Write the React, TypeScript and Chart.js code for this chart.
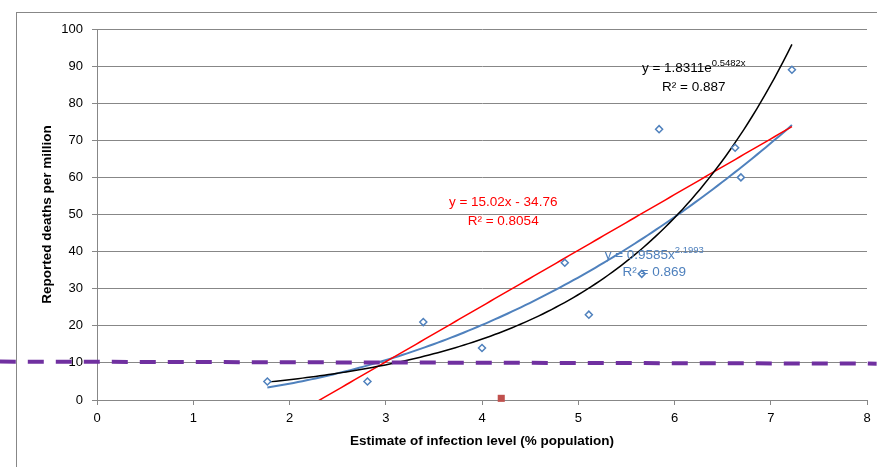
import React, { useEffect, useRef } from 'react';
import { Chart, registerables } from 'chart.js';

Chart.register(...registerables);

// ---- data ----
const infectionLevel = [1.77, 2.81, 3.39, 4.0, 4.86, 5.11, 5.66, 5.84, 6.63, 6.69, 7.22];
const deathsPerMillion = [5, 5, 21, 14, 37, 23, 34, 73, 68, 60, 89];

const outlierX = [4.2];
const outlierY = [0.45];

const thresholdX = [-1.01, 8.1];
const thresholdY = [10.35, 9.8];

// trendline equations as printed on the chart
const expCoef = [1.8311, 0.5482]; // y = a e^(b x)
const linCoef = [15.02, -34.76]; // y = m x + c
const powCoef = [0.9585, 2.1993]; // y = a x^b
const trendRange = [1.77, 7.22];

const xAxisTitle = 'Estimate of infection level (% population)';
const yAxisTitle = 'Reported deaths per million';

const FONT = "'Liberation Sans', Arial, sans-serif";
const GRID = '#878787';

function sampleTrend(fn: (x: number) => number) {
  const pts: { x: number; y: number }[] = [];
  const n = 120;
  for (let i = 0; i <= n; i++) {
    const x = trendRange[0] + ((trendRange[1] - trendRange[0]) * i) / n;
    pts.push({ x, y: fn(x) });
  }
  return pts;
}

type Seg = { text: string; sup?: boolean };
const eqLabels: { color: string; x: number; ys: number[]; lines: Seg[][] }[] = [
  {
    color: '#000000',
    x: 6.2,
    ys: [89.3, 84.4],
    lines: [[{ text: 'y = 1.8311e' }, { text: '0.5482x', sup: true }], [{ text: 'R² = 0.887' }]],
  },
  {
    color: '#FF0000',
    x: 4.22,
    ys: [53.4, 48.3],
    lines: [[{ text: 'y = 15.02x - 34.76' }], [{ text: 'R² = 0.8054' }]],
  },
  {
    color: '#4F81BD',
    x: 5.79,
    ys: [39.1, 34.5],
    lines: [[{ text: 'y = 0.9585x' }, { text: '2.1993', sup: true }], [{ text: 'R² = 0.869' }]],
  },
];

const equationPlugin = {
  id: 'equationLabels',
  afterDatasetsDraw(chart: any) {
    const { ctx, scales } = chart;
    ctx.save();
    ctx.textBaseline = 'middle';
    ctx.textAlign = 'left';
    const base = `13.5px ${FONT}`;
    const sup = `9.5px ${FONT}`;
    for (const lab of eqLabels) {
      ctx.fillStyle = lab.color;
      const cx = scales.x.getPixelForValue(lab.x);
      lab.lines.forEach((line, i) => {
        const py = scales.y.getPixelForValue(lab.ys[i]);
        let w = 0;
        for (const s of line) {
          ctx.font = s.sup ? sup : base;
          w += ctx.measureText(s.text).width;
        }
        let px = cx - w / 2;
        for (const s of line) {
          ctx.font = s.sup ? sup : base;
          ctx.fillText(s.text, px, s.sup ? py - 5 : py);
          px += ctx.measureText(s.text).width;
        }
      });
    }
    ctx.restore();
  },
};

export default function App() {
  const ref = useRef<HTMLCanvasElement>(null);

  useEffect(() => {
    if (!ref.current) return;
    const points = infectionLevel.map((x, i) => ({ x, y: deathsPerMillion[i] }));
    const chart = new Chart(ref.current, {
      type: 'scatter',
      data: {
        datasets: [
          {
            label: 'threshold',
            data: thresholdX.map((x, i) => ({ x, y: thresholdY[i] })),
            showLine: true,
            borderColor: '#7030A0',
            borderWidth: 4,
            borderDash: [16, 12],
            pointRadius: 0,
            clip: false,
          } as any,
          {
            label: 'outlier',
            data: outlierX.map((x, i) => ({ x, y: outlierY[i] })),
            pointStyle: 'rect',
            pointRadius: 5,
            backgroundColor: '#C0504D',
            borderColor: '#C0504D',
            borderWidth: 0,
            clip: false,
          } as any,
          {
            label: 'deaths',
            data: points,
            pointStyle: 'rectRot',
            pointRadius: 3.5,
            borderWidth: 1.5,
            borderColor: '#4F81BD',
            backgroundColor: '#FFFFFF',
          },
          {
            label: 'exp',
            data: sampleTrend((x) => expCoef[0] * Math.exp(expCoef[1] * x)),
            showLine: true,
            borderColor: '#000000',
            borderWidth: 1.5,
            pointRadius: 0,
            clip: 0,
          } as any,
          {
            label: 'linear',
            data: sampleTrend((x) => linCoef[0] * x + linCoef[1]),
            showLine: true,
            borderColor: '#FF0000',
            borderWidth: 1.5,
            pointRadius: 0,
            clip: 0,
          } as any,
          {
            label: 'power',
            data: sampleTrend((x) => powCoef[0] * Math.pow(x, powCoef[1])),
            showLine: true,
            borderColor: '#4F81BD',
            borderWidth: 2,
            pointRadius: 0,
            clip: 0,
          } as any,
        ],
      },
      options: {
        responsive: false,
        animation: false,
        layout: { padding: { left: 0, right: 10, top: 29, bottom: 0 } },
        plugins: { legend: { display: false }, tooltip: { enabled: false } },
        scales: {
          x: {
            type: 'linear',
            min: 0,
            max: 8,
            ticks: { stepSize: 1, color: '#000', font: { family: FONT, size: 13 }, padding: 6 },
            grid: { drawOnChartArea: false, tickLength: 5, color: GRID },
            border: { color: GRID },
            title: {
              display: true,
              text: xAxisTitle,
              color: '#000',
              font: { family: FONT, size: 13.5, weight: 'bold' },
              padding: { top: 0, bottom: 18 },
            },
            afterFit: (s: any) => {
              s.height = 67;
            },
          },
          y: {
            type: 'linear',
            min: 0,
            max: 100,
            ticks: { stepSize: 10, color: '#000', font: { family: FONT, size: 13 }, padding: 9 },
            grid: { tickLength: 5, color: GRID },
            border: { color: GRID },
            title: {
              display: true,
              text: yAxisTitle,
              color: '#000',
              font: { family: FONT, size: 13.5, weight: 'bold' },
              padding: { top: 39, bottom: 0 },
            },
            afterFit: (s: any) => {
              s.width = 97;
            },
          },
        },
      } as any,
      plugins: [equationPlugin],
    });
    return () => chart.destroy();
  }, []);

  return (
    <div style={{ position: 'fixed', left: 0, top: 0, width: 877, height: 467, background: '#fff' }}>
      <div
        style={{
          position: 'absolute',
          left: 16,
          top: 12,
          right: 0,
          bottom: 0,
          borderLeft: `1px solid ${GRID}`,
          borderTop: `1px solid ${GRID}`,
        }}
      />
      <canvas ref={ref} width={877} height={467} style={{ position: 'absolute', left: 0, top: 0, width: 877, height: 467 }} />
    </div>
  );
}
